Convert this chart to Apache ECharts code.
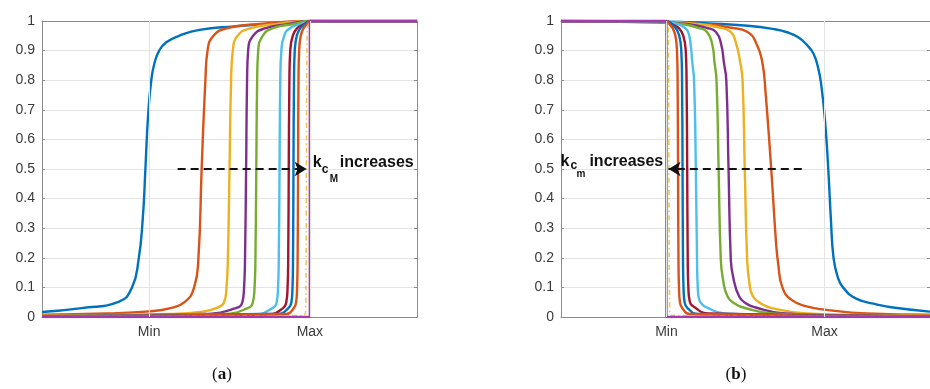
<!DOCTYPE html>
<html>
<head>
<meta charset="utf-8">
<script src="https://cdn.jsdelivr.net/npm/echarts@6/dist/echarts.min.js"></script>
<style>
  html, body { margin: 0; padding: 0; background: #ffffff; }
  #chart { width: 930px; height: 389px; }
</style>
</head>
<body>
<div id="chart"></div>
<script>
// Normalised position axis: 0 .. 3.5, with the "Min" and "Max" marks at 1 and 2.5
const xTickValues = [1, 2.5];
const xTickLabels = ['Min', 'Max'];
const yTickLabels = ['0', '0.1', '0.2', '0.3', '0.4', '0.5', '0.6', '0.7', '0.8', '0.9', '1'];

// (a) rising curves, k_cM increasing from the first to the last
const aBlue1   = [[0,0.017],[0.37,0.03],[0.72,0.052],[0.84,0.1],[0.9,0.19],[0.94,0.33],[0.965,0.5],[0.99,0.68],[1.02,0.8],[1.05,0.858],[1.094,0.9],[1.16,0.928],[1.28,0.95],[1.47,0.97],[1.8,0.982],[2.1,0.99],[2.5,1],[3.5,1]];
const aRed1    = [[0,0.008],[0.6,0.012],[1.0,0.019],[1.2,0.03],[1.33,0.05],[1.42,0.1],[1.46,0.2],[1.49,0.5],[1.525,0.8],[1.545,0.9],[1.6,0.95],[1.72,0.975],[2.03,0.99],[2.5,1],[3.5,1]];
const aYellow1 = [[0,0.004],[1.2,0.01],[1.5,0.018],[1.625,0.03],[1.70,0.05],[1.722,0.1],[1.735,0.2],[1.75,0.5],[1.765,0.8],[1.781,0.9],[1.825,0.95],[1.94,0.975],[2.2,0.99],[2.5,1],[3.5,1]];
const aPurple1 = [[0,0.003],[1.5,0.01],[1.81,0.03],[1.87,0.05],[1.886,0.1],[1.895,0.2],[1.905,0.5],[1.914,0.8],[1.924,0.9],[1.97,0.95],[2.08,0.975],[2.3,0.99],[2.5,1],[3.5,1]];
const aGreen1  = [[0,0.003],[1.7,0.01],[1.92,0.03],[1.968,0.05],[1.984,0.1],[1.992,0.2],[2.0,0.5],[2.008,0.8],[2.018,0.9],[2.06,0.95],[2.15,0.975],[2.35,0.99],[2.5,1],[3.5,1]];
const aCyan    = [[0,0.002],[2.0,0.01],[2.15,0.03],[2.19,0.05],[2.203,0.1],[2.21,0.2],[2.217,0.5],[2.224,0.8],[2.234,0.9],[2.26,0.95],[2.31,0.975],[2.42,0.99],[2.5,1],[3.5,1]];
const aDarkRed = [[0,0.002],[2.12,0.01],[2.25,0.03],[2.28,0.05],[2.292,0.1],[2.298,0.2],[2.303,0.5],[2.309,0.8],[2.317,0.9],[2.34,0.95],[2.38,0.975],[2.45,0.99],[2.5,1],[3.5,1]];
const aBlue2   = [[0,0.002],[2.2,0.01],[2.3,0.03],[2.328,0.05],[2.338,0.1],[2.343,0.2],[2.347,0.5],[2.352,0.8],[2.359,0.9],[2.378,0.95],[2.41,0.975],[2.46,0.99],[2.5,1],[3.5,1]];
const aOrange2 = [[0,0.002],[2.28,0.01],[2.35,0.03],[2.372,0.05],[2.381,0.1],[2.386,0.2],[2.39,0.5],[2.394,0.8],[2.4,0.9],[2.415,0.95],[2.44,0.975],[2.475,0.99],[2.5,1],[3.5,1]];
const aYellow2 = [[0,0.001],[2.44,0.005],[2.462,0.03],[2.468,0.5],[2.475,0.97],[2.49,0.995],[2.5,1],[3.5,1]];
const aLimit   = [[0,0],[2.5,0],[2.5,1],[3.5,1]];

// (b) falling curves, k_cm increasing from the first to the last
const bBlue1   = [[0,1],[1.0,0.998],[1.4,0.992],[1.77,0.984],[2.03,0.972],[2.144,0.962],[2.25,0.945],[2.33,0.92],[2.394,0.89],[2.44,0.84],[2.47,0.78],[2.505,0.66],[2.535,0.5],[2.56,0.33],[2.585,0.2],[2.625,0.135],[2.675,0.1],[2.8,0.062],[3.0,0.042],[3.13,0.033],[3.5,0.018]];
const bRed1    = [[0,1],[0.9,0.995],[1.4,0.988],[1.6,0.978],[1.77,0.963],[1.86,0.918],[1.91,0.86],[1.94,0.76],[1.994,0.5],[2.04,0.25],[2.06,0.18],[2.1,0.1],[2.19,0.057],[2.34,0.035],[2.5,0.025],[2.9,0.012],[3.5,0.008]];
const bYellow1 = [[0,1],[1.0,0.997],[1.3,0.99],[1.5,0.978],[1.61,0.963],[1.66,0.925],[1.7,0.86],[1.722,0.8],[1.743,0.5],[1.765,0.2],[1.785,0.12],[1.82,0.07],[1.9,0.045],[2.0,0.03],[2.3,0.013],[2.8,0.007],[3.5,0.004]];
const bPurple1 = [[0,1],[0.9,0.997],[1.2,0.99],[1.38,0.977],[1.47,0.963],[1.52,0.92],[1.545,0.86],[1.568,0.8],[1.589,0.5],[1.61,0.2],[1.63,0.14],[1.69,0.069],[1.76,0.045],[1.84,0.033],[2.1,0.013],[2.6,0.006],[3.5,0.003]];
const bGreen1  = [[0,1],[0.9,0.997],[1.15,0.99],[1.3,0.977],[1.385,0.963],[1.435,0.92],[1.456,0.86],[1.475,0.8],[1.495,0.5],[1.515,0.2],[1.535,0.13],[1.58,0.069],[1.65,0.045],[1.72,0.033],[2.0,0.012],[2.5,0.006],[3.5,0.003]];
const bCyan    = [[0,1],[1.0,0.996],[1.1,0.99],[1.17,0.978],[1.206,0.963],[1.23,0.92],[1.245,0.86],[1.262,0.8],[1.279,0.5],[1.29,0.2],[1.297,0.1],[1.31,0.06],[1.34,0.042],[1.375,0.033],[1.55,0.012],[2.2,0.005],[3.5,0.002]];
const bDarkRed = [[0,1],[1.0,1],[1.05,0.99],[1.12,0.975],[1.16,0.95],[1.183,0.9],[1.191,0.8],[1.197,0.5],[1.202,0.2],[1.208,0.1],[1.22,0.055],[1.26,0.035],[1.4,0.012],[3.5,0.002]];
const bBlue2   = [[0,1],[1.0,1],[1.04,0.99],[1.09,0.975],[1.122,0.95],[1.141,0.9],[1.148,0.8],[1.153,0.5],[1.157,0.2],[1.162,0.1],[1.172,0.05],[1.2,0.03],[1.3,0.01],[3.5,0.002]];
const bOrange2 = [[0,1],[1.0,1],[1.025,0.99],[1.06,0.975],[1.085,0.95],[1.1,0.9],[1.106,0.8],[1.11,0.5],[1.114,0.2],[1.119,0.1],[1.128,0.05],[1.15,0.03],[1.22,0.01],[3.5,0.002]];
const bYellow2 = [[0,1],[1.0,1],[1.01,0.995],[1.018,0.97],[1.024,0.5],[1.03,0.03],[1.05,0.005],[3.5,0.001]];
const bLimit   = [[0,1],[1.0,1],[1.0,0],[3.5,0]];

// Dashed arrows at the half level, from tail to head
const arrowA = [[1.266, 0.5], [2.47, 0.5]];
const arrowB = [[2.284, 0.5], [1.02, 0.5]];
// Where the "k ... increases" notes attach
const noteAnchorA = [2.5, 0.5];
const noteAnchorB = [1.0, 0.5];

const curvesA = [aBlue1, aRed1, aYellow1, aPurple1, aGreen1, aCyan, aDarkRed, aBlue2, aOrange2, aYellow2, aLimit];
const curvesB = [bBlue1, bRed1, bYellow1, bPurple1, bGreen1, bCyan, bDarkRed, bBlue2, bOrange2, bYellow2, bLimit];

const palette = ['#0072BD', '#D95319', '#EDB120', '#7E2F8E', '#77AC30', '#4DBEEE',
                 '#A2142F', '#0072BD', '#D95319', '#EDB120', '#A53AAE'];

const axisGrey = '#8c8c8c';
const gridGrey = '#e4e4e4';
const labelColor = '#3a3a3a';
const FONT = 'Liberation Sans, Arial, Helvetica, sans-serif';

const chart = echarts.init(document.getElementById('chart'), null, { renderer: 'canvas' });

function xLabel(v) {
  const i = xTickValues.findIndex(t => Math.abs(t - v) < 1e-9);
  return i >= 0 ? xTickLabels[i] : '';
}

function xAxes(g) {
  const common = {
    type: 'value', gridIndex: g, min: 0, max: 3.5,
    splitLine: { show: false },
    axisLine: { show: true, onZero: false, lineStyle: { color: axisGrey, width: 1 } },
    axisTick: { show: true, inside: true, length: 3, customValues: xTickValues, lineStyle: { color: axisGrey } }
  };
  return [
    Object.assign({}, common, {
      position: 'bottom',
      axisLabel: { customValues: xTickValues, formatter: xLabel, color: labelColor, fontSize: 14, fontFamily: FONT, margin: 8 }
    }),
    Object.assign({}, common, { position: 'top', axisLabel: { show: false } })
  ];
}

function yAxes(g) {
  const common = {
    type: 'value', gridIndex: g, min: 0, max: 1, interval: 0.1,
    axisLine: { show: true, onZero: false, lineStyle: { color: axisGrey, width: 1 } },
    axisTick: { show: true, inside: true, length: 3, lineStyle: { color: axisGrey } }
  };
  return [
    Object.assign({}, common, {
      position: 'left',
      splitLine: { show: true, lineStyle: { color: gridGrey, width: 1 } },
      axisLabel: { color: labelColor, fontSize: 14, fontFamily: FONT, margin: 7,
                   formatter: (v, i) => yTickLabels[i] }
    }),
    Object.assign({}, common, { position: 'right', splitLine: { show: false }, axisLabel: { show: false } })
  ];
}

function panelSeries(curves, g, arrow) {
  const xi = g * 2, yi = g * 2;
  const out = [];
  // faint vertical grid lines at Min and Max
  out.push({
    type: 'line', xAxisIndex: xi, yAxisIndex: yi, data: [], z: 1, silent: true,
    markLine: {
      silent: true, symbol: 'none', animation: false,
      label: { show: false },
      lineStyle: { color: gridGrey, width: 1, type: 'solid' },
      data: xTickValues.map(v => ({ xAxis: v }))
    }
  });
  curves.forEach((d, i) => {
    const last = i === curves.length - 1;
    const dashed = i === 9;
    out.push({
      type: 'line', xAxisIndex: xi, yAxisIndex: yi, data: d,
      symbol: 'none', showSymbol: false, silent: true,
      smooth: last ? false : 0.5,
      lineStyle: {
        color: palette[i], width: dashed ? 1.6 : 2.4,
        opacity: dashed ? 0.75 : 1,
        type: dashed ? [5, 3, 1.5, 3] : 'solid'
      },
      z: 3 + i * 0.01
    });
  });
  // dashed arrow
  out.push({
    type: 'line', xAxisIndex: xi, yAxisIndex: yi, data: [], z: 6, silent: true,
    markLine: {
      silent: true, animation: false,
      symbol: ['none', 'arrow'], symbolSize: [11, 12],
      label: { show: false },
      lineStyle: { color: '#111111', width: 2, type: [8, 5] },
      data: [[{ coord: arrow[0] }, { coord: arrow[1] }]]
    }
  });
  return out;
}

const option = {
  animation: false,
  textStyle: { fontFamily: FONT },
  grid: [
    { left: 42, top: 21, width: 375, height: 296, containLabel: false },
    { left: 561, top: 21, width: 374, height: 296, containLabel: false }
  ],
  xAxis: xAxes(0).concat(xAxes(1)),
  yAxis: yAxes(0).concat(yAxes(1)),
  series: panelSeries(curvesA, 0, arrowA).concat(panelSeries(curvesB, 1, arrowB))
};

chart.setOption(option);

function txt(x, y, s, size, bold) {
  return {
    type: 'text', x: x, y: y, silent: true, z: 20,
    style: {
      text: s, fill: '#111111', align: 'left', verticalAlign: 'middle',
      font: (bold ? 'bold ' : '') + size + 'px ' + FONT
    }
  };
}

const pA = chart.convertToPixel({ xAxisIndex: 0, yAxisIndex: 0 }, noteAnchorA);
const pB = chart.convertToPixel({ xAxisIndex: 2, yAxisIndex: 2 }, noteAnchorB);

const captionRich = {
  n: { fontFamily: 'Liberation Serif, Times New Roman, serif', fontSize: 17, fill: '#111111' },
  b: { fontFamily: 'Liberation Serif, Times New Roman, serif', fontSize: 17, fontWeight: 'bold', fill: '#111111' }
};

chart.setOption({
  graphic: [
    txt(pA[0] + 3, pA[1] - 6.5, 'k', 16, true),
    txt(pA[0] + 12, pA[1] + 1, 'c', 12, true),
    txt(pA[0] + 20, pA[1] + 10.5, 'M', 10, true),
    txt(pA[0] + 30, pA[1] - 6.5, 'increases', 16, true),

    txt(pB[0] - 106, pB[1] - 7.5, 'k', 16, true),
    txt(pB[0] - 96, pB[1] - 3, 'c', 12, true),
    txt(pB[0] - 90, pB[1] + 5.5, 'm', 10, true),
    txt(pB[0] - 77, pB[1] - 7.5, 'increases', 16, true),

    { type: 'text', x: 222, y: 375, silent: true,
      style: { text: '{n|(}{b|a}{n|)}', rich: captionRich, align: 'center', verticalAlign: 'middle' } },
    { type: 'text', x: 736, y: 375, silent: true,
      style: { text: '{n|(}{b|b}{n|)}', rich: captionRich, align: 'center', verticalAlign: 'middle' } }
  ]
});
</script>
</body>
</html>
